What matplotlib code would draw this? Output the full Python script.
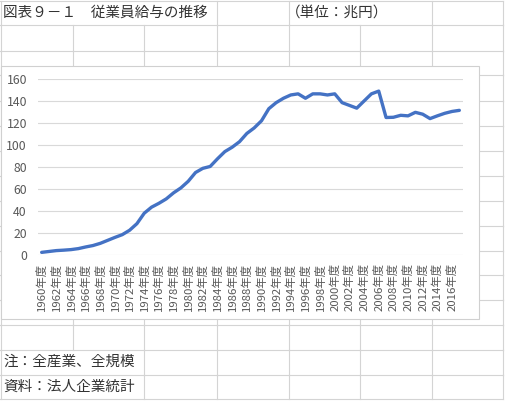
import matplotlib.pyplot as plt
from matplotlib.patches import Rectangle

plt.rcParams['font.family'] = ['Noto Sans CJK JP', 'DejaVu Sans']

# fiscal years 1960-2017 and employee wages (trillion yen)
years = list(range(1960, 2018))
wages = [2.4, 3.2, 4.0, 4.4, 4.9, 5.8, 7.3, 8.6, 10.6, 13.3,
         16.0, 18.5, 22.5, 28.5, 38.0, 43.5, 47.0, 51.0, 56.5, 61.0,
         67.0, 75.0, 78.8, 80.5, 87.5, 94.0, 98.0, 103.0, 110.5, 115.5,
         122.0, 133.0, 138.5, 142.5, 145.5, 146.5, 142.5, 146.5, 146.5, 145.5,
         146.5, 138.5, 136.0, 133.5, 140.0, 146.5, 149.0, 125.0, 125.2, 127.0,
         126.5, 129.7, 128.0, 124.0, 126.5, 128.8, 130.5, 131.5]
tick_labels = [f"{y}年度" for y in years]

title = "図表９－１　従業員給与の推移"
unit = "（単位：兆円）"
note = "注：全産業、全規模"
source = "資料：法人企業統計"

W, H = 505, 401
fig = plt.figure(figsize=(W / 100, H / 100), dpi=100)

# spreadsheet background, pixel coordinates
bg = fig.add_axes([0, 0, 1, 1])
bg.set_xlim(0, W)
bg.set_ylim(H, 0)
bg.axis('off')

cell = '#d4d4d4'
cols = [0.5, 72.5, 144.3, 216.5, 288.5, 360.3, 432.3, 503.3]
rows = [0.5, 25, 50.5, 75, 100.5, 125.5, 150.5, 175.5, 200.5, 225.5,
        250.5, 275, 300, 324.5, 349.7, 374.7, 399]

for r in rows:
    bg.plot([0, cols[-1]], [r, r], color=cell, lw=0.8, zorder=1)
for i in range(len(rows) - 1):
    top, bot = rows[i], rows[i + 1]
    for c in cols:
        if i == 0 and c in (72.5, 144.3, 360.3):
            continue
        if i >= 14 and c == 72.5:
            continue
        bg.plot([c, c], [top, bot], color=cell, lw=0.8, zorder=1)

text_color = '#333333'
bg.text(3, 12.7, title, fontsize=10.5, color=text_color, va='center', ha='left')
bg.text(286, 12.7, unit, fontsize=10.5, color=text_color, va='center', ha='left')
bg.text(3, 362, note, fontsize=10.5, color=text_color, va='center', ha='left')
bg.text(3, 387, source, fontsize=10.5, color=text_color, va='center', ha='left')

# chart area box
bg.add_patch(Rectangle((1, 66), 478, 253, facecolor='white',
                       edgecolor='#d0d0d0', lw=0.8, zorder=3))

# plot area
left, right, y0, y160 = 38, 463, 255, 79
ax = fig.add_axes([left / W, (H - y0) / H, (right - left) / W, (y0 - y160) / H])
ax.set_zorder(5)
ax.patch.set_alpha(0)

x = list(range(len(years)))
ax.plot(x, wages, color='#4472C4', lw=2.4, solid_joinstyle='round',
        solid_capstyle='round', zorder=3)

ax.set_xlim(-0.5, len(years) - 0.5)
ax.set_ylim(0, 160)
ax.set_yticks(range(0, 161, 20))
ax.grid(axis='y', color='#d9d9d9', lw=0.8)
ax.set_axisbelow(True)
for s in ax.spines.values():
    s.set_visible(False)

ax.set_xticks(x[::2])
ax.set_xticklabels(tick_labels[::2], rotation=90, fontsize=8.2, color='#595959')
ax.tick_params(axis='x', length=0, pad=6)
ax.tick_params(axis='y', length=0, pad=8, labelsize=8.8, labelcolor='#595959')

fig.savefig('out.png', dpi=100)
